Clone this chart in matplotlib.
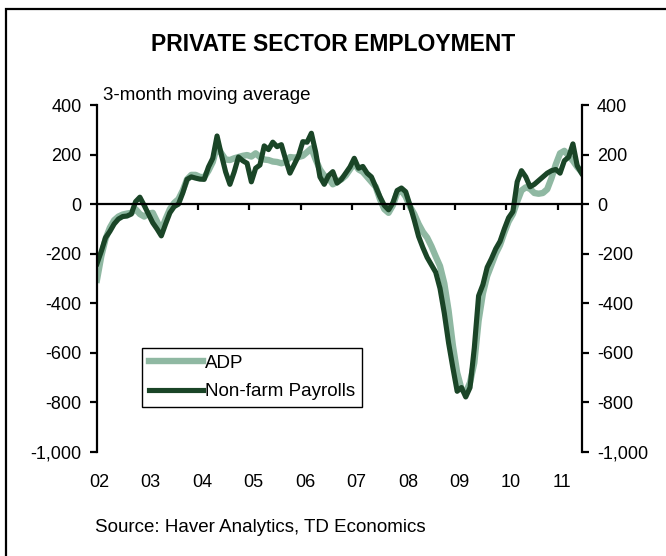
import matplotlib.pyplot as plt
from matplotlib.patches import Rectangle

plt.rcParams['font.family'] = ['Liberation Sans', 'DejaVu Sans']

# 3-month moving average, thousands, monthly Jan 2002 - Jun 2011
nfp = [-240, -190, -135, -110, -80, -60, -50, -48, -40, 10,
       28, -5, -40, -75, -100, -128, -80, -35, -10, 0,
       45, 100, 110, 105, 101, 100, 150, 185, 275, 200,
       130, 80, 130, 190, 175, 165, 90, 145, 158, 235,
       220, 250, 232, 240, 180, 125, 160, 195, 252, 250,
       286, 210, 110, 80, 115, 131, 85, 100, 125, 150,
       185, 145, 152, 125, 110, 70, 30, -5, -23, 5,
       55, 65, 50, -5, -65, -130, -175, -215, -245, -275,
       -340, -440, -560, -660, -755, -740, -778, -740, -580, -370,
       -325, -255, -220, -180, -150, -100, -55, -30, 90, 135,
       110, 70, 80, 95, 110, 125, 135, 140, 125, 175,
       190, 243, 155, 125]
adp = [-305, -210, -140, -95, -65, -50, -42, -38, -35, -20,
       -40, -50, -38, -35, -70, -105, -60, -20, 5, 20,
       55, 100, 118, 118, 110, 108, 135, 170, 235, 205,
       180, 178, 185, 190, 195, 198, 192, 205, 190, 180,
       178, 172, 170, 165, 170, 190, 188, 190, 195, 210,
       225, 180, 140, 115, 105, 80, 90, 100, 115, 140,
       165, 140, 130, 110, 90, 70, 20, -20, -35, -5,
       45, 55, 30, -10, -40, -80, -112, -135, -170, -211,
       -250, -320, -430, -570, -680, -745, -760, -720, -640, -470,
       -360, -290, -245, -200, -165, -115, -70, -40, 10, 55,
       68, 62, 45, 42, 45, 60, 105, 160, 205, 215,
       195, 175, 150, 130]
years = ['02', '03', '04', '05', '06', '07', '08', '09', '10', '11']
yticks = [400, 200, 0, -200, -400, -600, -800, -1000]

light = '#8fb8a2'
dark = '#1a4527'

months = [m + 0.5 for m in range(len(nfp))]

fig = plt.figure(figsize=(6.66, 5.56), dpi=100)
ax = fig.add_axes([97 / 666, 1 - 452 / 556, (581.5 - 97) / 666, (452 - 105) / 556])

ax.plot(months, adp, color=light, lw=4.6, label='ADP')
ax.plot(months, nfp, color=dark, lw=3.7, label='Non-farm Payrolls')

ax.set_xlim(0.5, 113.5)
ax.set_ylim(-1000, 400)

ax.spines['top'].set_visible(False)
ax.spines['bottom'].set_position(('data', 0))
for s in ['left', 'right', 'bottom']:
    ax.spines[s].set_linewidth(1.6)

ax.set_yticks(yticks, labels=[f'{v:,}' for v in yticks])
ax.tick_params(axis='y', left=True, right=True, labelleft=True, labelright=True,
               direction='out', length=5, width=1.6, labelsize=13, pad=6)
ax.set_xticks([12 * k for k in range(1, 10)])
ax.tick_params(axis='x', direction='out', length=4, width=1.6, labelbottom=False)

sec = ax.secondary_xaxis(0.0)
sec.set_xticks([12 * k + 1 for k in range(len(years))], labels=years)
sec.tick_params(length=0, pad=16, labelsize=13)
sec.spines['bottom'].set_visible(False)

fig.legend(loc='lower left', bbox_to_anchor=(142 / 666, 1 - 407 / 556),
           fontsize=13.5, frameon=True, fancybox=False, edgecolor='black',
           framealpha=1, handlelength=2.9, handletextpad=0.1, labelspacing=0.62,
           borderpad=0.35, borderaxespad=0)

fig.text(0.5, 1 - 45 / 556, 'PRIVATE SECTOR EMPLOYMENT', ha='center', va='center',
         fontsize=16.5, fontweight='bold')
fig.text(103 / 666, 1 - 95 / 556, '3-month moving average', ha='left', va='center',
         fontsize=13.5)
fig.text(95 / 666, 1 - 527 / 556, 'Source: Haver Analytics, TD Economics', ha='left',
         va='center', fontsize=13.5)

fig.add_artist(Rectangle((6 / 666, -0.1), 1.2, 1 - 9 / 556 + 0.1, transform=fig.transFigure,
                         fill=False, edgecolor='black', lw=1.6))

fig.savefig('out.png', dpi=100)
